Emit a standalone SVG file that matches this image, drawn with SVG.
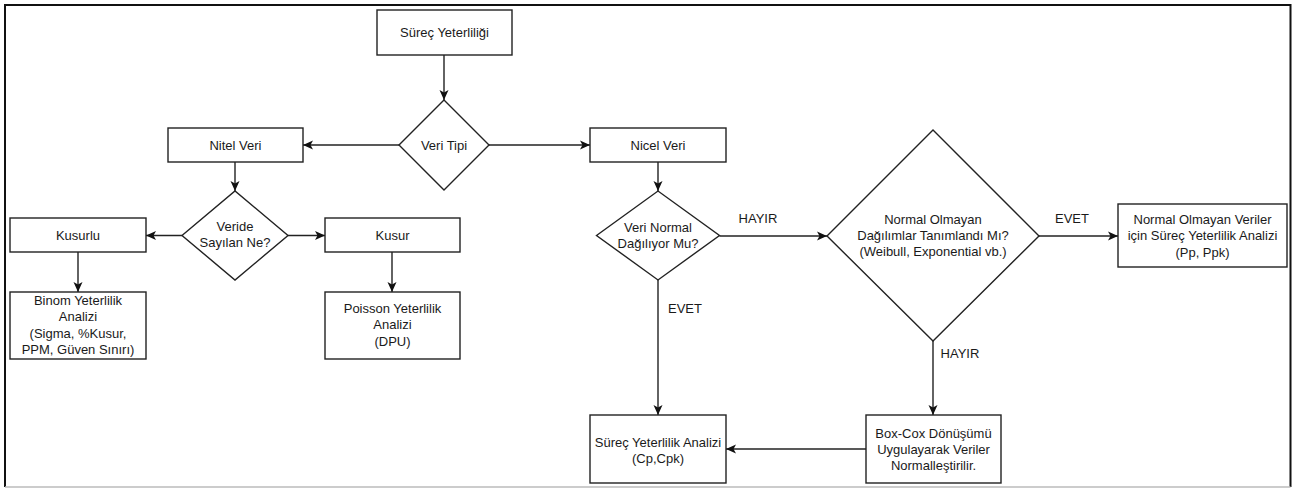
<svg xmlns="http://www.w3.org/2000/svg" width="1294" height="488" viewBox="0 0 1294 488">
<style>
.n{fill:#fff;stroke:#222;stroke-width:1.4}
.t{font-family:"Liberation Sans",Arial,sans-serif;font-size:13px;fill:#1a1a1a;text-anchor:middle}
.c{fill:none;stroke:#222;stroke-width:1.4}
</style>
<defs>
<marker id="a" markerUnits="userSpaceOnUse" markerWidth="12" markerHeight="10" refX="10" refY="5" orient="auto">
<path d="M0,0.5 L10,5 L0,9.5 L2.5,5 Z" fill="#111"/>
</marker>
</defs>
<rect x="0" y="0" width="1294" height="488" fill="#fff"/>
<path d="M5,487 L5,5 L1290.5,5 L1290.5,487" fill="none" stroke="#111" stroke-width="2"/>
<line x1="5" y1="487" x2="1290.5" y2="487" stroke="#bbb" stroke-width="1.5"/>

<g id="connectors">
<line class="c" x1="444" y1="55" x2="444" y2="100" marker-end="url(#a)"/>
<line class="c" x1="399" y1="145" x2="303" y2="145" marker-end="url(#a)"/>
<line class="c" x1="489" y1="145" x2="590" y2="145" marker-end="url(#a)"/>
<line class="c" x1="235" y1="162" x2="235" y2="191" marker-end="url(#a)"/>
<line class="c" x1="182" y1="235.5" x2="146" y2="235.5" marker-end="url(#a)"/>
<line class="c" x1="288" y1="235.5" x2="325" y2="235.5" marker-end="url(#a)"/>
<line class="c" x1="78" y1="252" x2="78" y2="292" marker-end="url(#a)"/>
<line class="c" x1="392" y1="252" x2="392" y2="292" marker-end="url(#a)"/>
<line class="c" x1="658" y1="162" x2="658" y2="191" marker-end="url(#a)"/>
<line class="c" x1="719.5" y1="236" x2="827" y2="236" marker-end="url(#a)"/>
<line class="c" x1="1039" y1="236" x2="1118" y2="236" marker-end="url(#a)"/>
<line class="c" x1="658" y1="280" x2="658" y2="415" marker-end="url(#a)"/>
<line class="c" x1="933" y1="341" x2="933" y2="415" marker-end="url(#a)"/>
<line class="c" x1="866" y1="449" x2="726" y2="449" marker-end="url(#a)"/>
<text class="t" x="758" y="222.5">HAYIR</text>
<text class="t" x="1072" y="222.5">EVET</text>
<text class="t" x="685" y="312.5">EVET</text>
<text class="t" x="960" y="357.5">HAYIR</text>
</g>

<g id="n1"><rect class="n" x="377" y="10" width="135" height="45"/><text class="t" x="444.5" y="37">Süreç Yeterliliği</text></g>
<g id="n2"><path class="n" d="M399,145 L444,100 L489,145 L444,190 Z"/><text class="t" x="444" y="149.5">Veri Tipi</text></g>
<g id="n3"><rect class="n" x="168" y="128" width="135" height="34"/><text class="t" x="235.5" y="149.5">Nitel Veri</text></g>
<g id="n4"><rect class="n" x="590" y="128" width="136" height="34"/><text class="t" x="658" y="149.5">Nicel Veri</text></g>
<g id="n5"><path class="n" d="M182,235.5 L235,191 L288,235.5 L235,280 Z"/><text class="t" x="235" y="231">Veride</text><text class="t" x="235" y="247">Sayılan Ne?</text></g>
<g id="n6"><rect class="n" x="10" y="218" width="136" height="34"/><text class="t" x="78" y="239.5">Kusurlu</text></g>
<g id="n7"><rect class="n" x="325" y="218" width="135" height="34"/><text class="t" x="392.5" y="239.5">Kusur</text></g>
<g id="n8"><rect class="n" x="10" y="292" width="136" height="67"/><text class="t" x="78" y="305">Binom Yeterlilik</text><text class="t" x="78" y="321">Analizi</text><text class="t" x="78" y="337.5">(Sigma, %Kusur,</text><text class="t" x="78" y="353.5">PPM, Güven Sınırı)</text></g>
<g id="n9"><rect class="n" x="325" y="292" width="135" height="67"/><text class="t" x="392.5" y="312.5">Poisson Yeterlilik</text><text class="t" x="392.5" y="329">Analizi</text><text class="t" x="392.5" y="346">(DPU)</text></g>
<g id="n10"><path class="n" d="M596.5,235.5 L658,191 L719.5,235.5 L658,280 Z"/><text class="t" x="658" y="231.5">Veri Normal</text><text class="t" x="658" y="247.5">Dağılıyor Mu?</text></g>
<g id="n11"><path class="n" d="M827,236 L933,130 L1039,236 L933,341 Z"/><text class="t" x="933" y="223.5">Normal Olmayan</text><text class="t" x="933" y="240">Dağılımlar Tanımlandı Mı?</text><text class="t" x="933" y="256">(Weibull, Exponential vb.)</text></g>
<g id="n12"><rect class="n" x="1118" y="204" width="169" height="63"/><text class="t" x="1202.5" y="223.5">Normal Olmayan Veriler</text><text class="t" x="1202.5" y="240">için Süreç Yeterlilik Analizi</text><text class="t" x="1202.5" y="256.5">(Pp, Ppk)</text></g>
<g id="n13"><rect class="n" x="866" y="415" width="135" height="68"/><text class="t" x="933.5" y="437.5">Box-Cox Dönüşümü</text><text class="t" x="933.5" y="453.5">Uygulayarak Veriler</text><text class="t" x="933.5" y="469.5">Normalleştirilir.</text></g>
<g id="n14"><rect class="n" x="590" y="415" width="136" height="68"/><text class="t" x="658" y="446.5">Süreç Yeterlilik Analizi</text><text class="t" x="658" y="462.5">(Cp,Cpk)</text></g>
</svg>
